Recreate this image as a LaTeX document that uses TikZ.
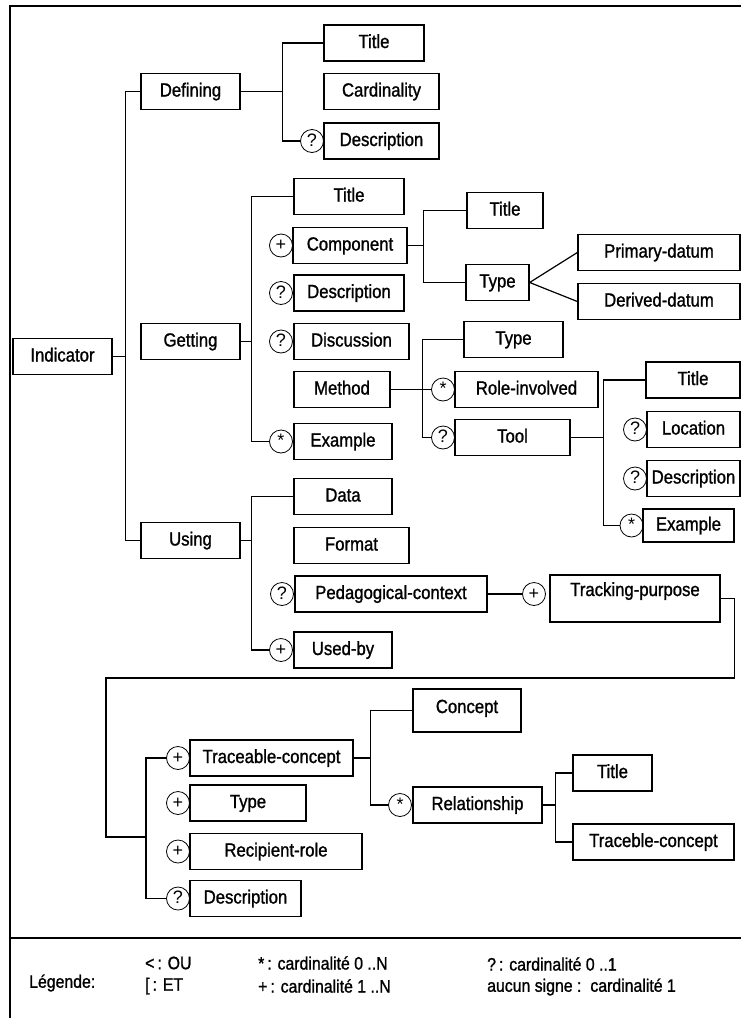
\documentclass[tikz,border=0pt]{standalone}
\usepackage{fontspec}
\setmainfont{Liberation Sans}[FakeStretch=0.88, FakeBold=1.2]
\newfontfamily\symfont{Liberation Sans}

\begin{document}
\begin{tikzpicture}[
    x=1pt, y=-1pt,
    font=\fontsize{19}{21}\selectfont,
    box/.style={draw, line width=1.3pt, minimum height=36pt, inner sep=0pt,
      text height=14pt, text depth=4pt},
    card/.style={draw, circle, line width=0.8pt, minimum size=23pt, inner sep=0pt,
      text height=12pt, text depth=2pt, font=\symfont\fontsize{18}{20}\selectfont},
    link/.style={line width=1.2pt},
    frame/.style={line width=2pt},
    legend/.style={anchor=west, inner sep=0pt, font=\fontsize{18}{20}\selectfont}
  ]
    \useasboundingbox (0,0) rectangle (741,1018);

    % Cadre et separation de la legende
    \draw[frame] (10,1018) -- (10,6) -- (741,6);
    \draw[frame] (10,938) -- (741,938);

    % Racine et premier niveau
    \node[box, minimum width=99pt] (ind) at (62.5,356.5) {Indicator};
    \node[box, minimum width=99pt] (def) at (190.5,91.5) {Defining};
    \node[box, minimum width=99pt] (get) at (190.5,341.5) {Getting};
    \node[box, minimum width=99pt] (use) at (190.5,540.5) {Using};

    \draw[link] (ind.east) -- ++(13,0) coordinate (j-ind);
    \draw[link] (def.west) -| (j-ind);
    \draw[link] (use.west) -| (j-ind);

    % Defining
    \node[box, minimum width=100pt] (def-title) at (374,43) {Title};
    \node[box, minimum width=115pt] (def-card) at (381.5,91.5) {Cardinality};
    \node[box, minimum width=115pt] (def-desc) at (381.5,141) {Description};
    \node[card] (c-def-desc) at (312,141) {?};

    \draw[link] (def.east) -- ++(42,0) coordinate (j-def);
    \draw[link] (def-title.west) -| (j-def);
    \draw[link] (c-def-desc.west) -| (j-def);

    % Getting
    \node[box, minimum width=110pt] (get-title) at (349,196.5) {Title};
    \node[box, minimum width=114pt] (comp) at (350,245.5) {Component};
    \node[card] (c-comp) at (281,245.5) {+};
    \node[box, minimum width=110pt] (get-desc) at (349,293) {Description};
    \node[card] (c-get-desc) at (281,293) {?};
    \node[box, minimum width=115pt] (disc) at (351.5,341.5) {Discussion};
    \node[card] (c-disc) at (281,341.5) {?};
    \node[box, minimum width=96pt] (meth) at (342,389.5) {Method};
    \node[box, minimum width=98pt] (get-ex) at (343,441.5) {Example};
    \node[card] (c-get-ex) at (281,441.5) {*};

    \draw[link] (get.east) -- ++(11,0) coordinate (j-get);
    \draw[link] (get-title.west) -| (j-get);
    \draw[link] (c-get-ex.west) -| (j-get);

    % Component
    \node[box, minimum width=76pt] (comp-title) at (505,210.5) {Title};
    \node[box, minimum width=63pt] (comp-type) at (497.5,282.5) {Type};
    \node[box, minimum width=162pt] (prim) at (659,252.5) {Primary-datum};
    \node[box, minimum width=162pt] (deriv) at (659,301.5) {Derived-datum};

    \draw[link] (comp.east) -- ++(16,0) coordinate (j-comp);
    \draw[link] (comp-title.west) -| (j-comp);
    \draw[link] (comp-type.west) -| (j-comp);
    \draw[link] (prim.west) -- (comp-type.east) -- (deriv.west);

    % Method
    \node[box, minimum width=99pt] (meth-type) at (513.5,339.5) {Type};
    \node[box, minimum width=143pt] (role) at (526.5,389.5) {Role-involved};
    \node[card] (c-role) at (443,389.5) {*};
    \node[box, minimum width=115pt] (tool) at (512.5,437.5) {Tool};
    \node[card] (c-tool) at (443,437.5) {?};

    \draw[link] (meth.east) -- (c-role.west);
    \path (meth.east) -- ++(32,0) coordinate (j-meth);
    \draw[link] (meth-type.west) -| (j-meth);
    \draw[link] (c-tool.west) -| (j-meth);

    % Tool
    \node[box, minimum width=94pt] (tool-title) at (693,380) {Title};
    \node[box, minimum width=93pt] (loc) at (693.5,429.5) {Location};
    \node[card] (c-loc) at (635,429.5) {?};
    \node[box, minimum width=93pt] (tool-desc) at (693.5,478.5) {Description};
    \node[card] (c-tool-desc) at (635,478.5) {?};
    \node[box, minimum width=91pt, minimum height=33pt] (tool-ex) at (688.5,525.5) {Example};
    \node[card] (c-tool-ex) at (631.5,525.5) {*};

    \draw[link] (tool.east) -- ++(33,0) coordinate (j-tool);
    \draw[link] (tool-title.west) -| (j-tool);
    \draw[link] (c-tool-ex.west) -| (j-tool);

    % Using
    \node[box, minimum width=98pt] (data) at (343,496.5) {Data};
    \node[box, minimum width=115pt] (form) at (351.5,545.5) {Format};
    \node[box, minimum width=192pt] (ped) at (391,594) {Pedagogical-context};
    \node[card] (c-ped) at (282,594) {?};
    \node[box, minimum width=98pt] (used) at (343,650) {Used-by};
    \node[card] (c-used) at (281,650) {+};
    \node[box, minimum width=170pt, minimum height=47pt, text depth=19pt,
      inner ysep=7pt] (track) at (635,598.5) {Tracking-purpose};
    \node[card] (c-track) at (534,594) {+};

    \draw[link] (use.east) -- ++(11,0) coordinate (j-use);
    \draw[link] (data.west) -| (j-use);
    \draw[link] (c-used.west) -| (j-use);
    \draw[link] (ped.east) -- (c-track.west);

    % Tracking-purpose, renvoi vers le bas
    \coordinate (wrap) at (106,678);
    \coordinate (j-track) at (146,837);
    \draw[link] (track.east) -- ++(14,0) |- (wrap) |- (j-track);

    \node[box, minimum width=163pt] (tc) at (271.5,758) {Traceable-concept};
    \node[card] (c-tc) at (178,758) {+};
    \node[box, minimum width=116pt] (tr-type) at (248,803) {Type};
    \node[card] (c-tr-type) at (178,803) {+};
    \node[box, minimum width=172pt] (recip) at (276,851.5) {Recipient-role};
    \node[card] (c-recip) at (178,851.5) {+};
    \node[box, minimum width=111pt] (tr-desc) at (245.5,898.5) {Description};
    \node[card] (c-tr-desc) at (178,898.5) {?};

    \draw[link] (c-tc.west) -| (j-track);
    \draw[link] (c-tr-desc.west) -| (j-track);

    % Traceable-concept
    \node[box, minimum width=108pt, minimum height=43pt, text depth=9pt] (concept) at (467,710.5) {Concept};
    \node[box, minimum width=129pt] (rel) at (477.5,805) {Relationship};
    \node[card] (c-rel) at (400,805) {*};

    \draw[link] (tc.east) -- ++(17,0) coordinate (j-tc);
    \draw[link] (concept.west) -| (j-tc);
    \draw[link] (c-rel.west) -| (j-tc);

    % Relationship
    \node[box, minimum width=79pt] (rel-title) at (612.5,773) {Title};
    \node[box, minimum width=161pt] (tracb) at (653.5,842) {Traceble-concept};

    \draw[link] (rel.east) -- ++(13,0) coordinate (j-rel);
    \draw[link] (rel-title.west) -| (j-rel);
    \draw[link] (tracb.west) -| (j-rel);

    % Legende
    \node[legend] (leg) at (29,983) {Légende:};
    \node[legend] (leg-ou) at (145,963) {<\,: OU};
    \node[legend] (leg-et) at (145,986) {[\,: ET};
    \node[legend] (leg-star) at (258,963) {*\,: cardinalité 0 ..N};
    \node[legend] (leg-plus) at (258,986) {+\,: cardinalité 1 ..N};
    \node[legend] (leg-opt) at (487,964) {?\,: cardinalité 0 ..1};
    \node[legend] (leg-none) at (487,987) {aucun signe :\enspace cardinalité 1};

\end{tikzpicture}
\end{document}
